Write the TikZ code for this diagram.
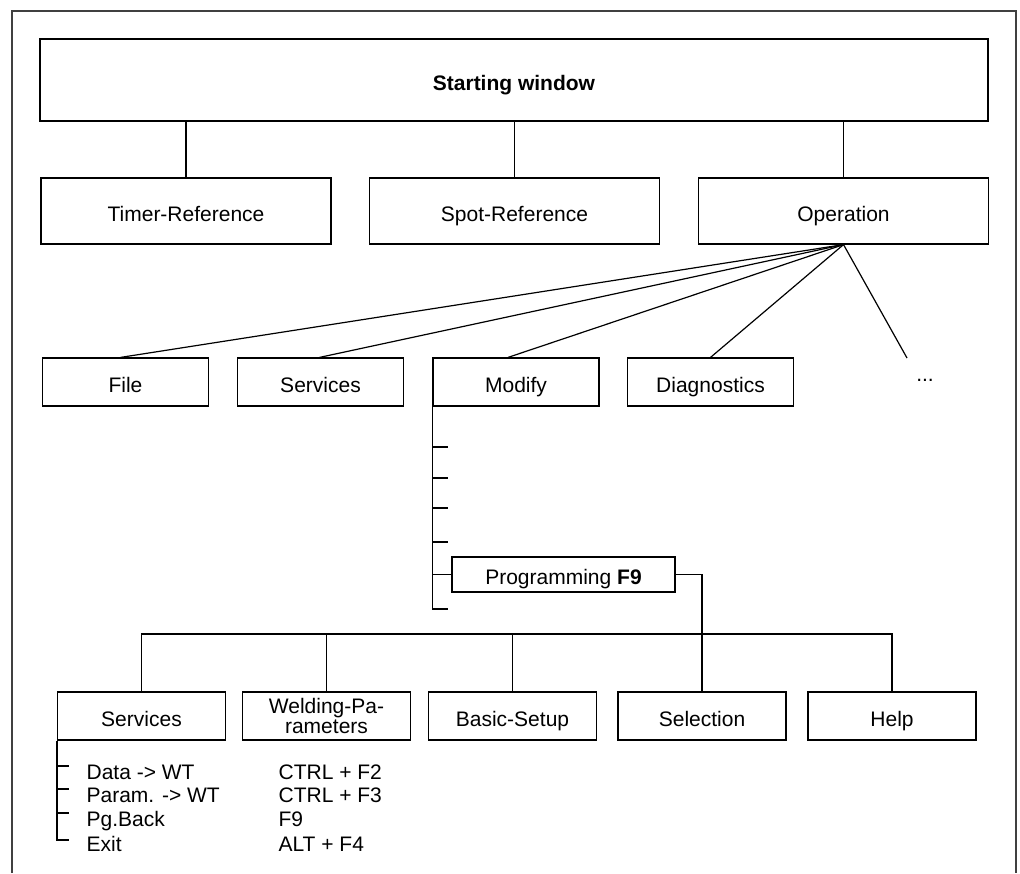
\documentclass[tikz,border=0pt]{standalone}
\usepackage{fontspec}
\setmainfont{Liberation Sans}
\usetikzlibrary{positioning, calc}

\begin{document}
\begin{tikzpicture}[x=0.5pt, y=-0.5pt, line width=0.6pt,
    font=\fontsize{10.5}{12}\selectfont,
    frame/.style={draw, rectangle, inner sep=0pt},
    oneline/.style={text height=10pt, text depth=0pt},
    topbox/.style={frame, oneline, minimum width=145pt, minimum height=33pt},
    midbox/.style={frame, oneline, minimum width=83pt, minimum height=24pt},
    lowbox/.style={frame, minimum width=84pt, minimum height=24pt},
    listtext/.style={anchor=base west, inner sep=0pt}]
    \useasboundingbox (0,0) rectangle (1020,873);
    % open frame round the page
    \draw [line width=1pt, black!75] (12,873) -- (12,11) -- (1016,11) -- (1016,873);

    \node (start) at (514,80) [frame, oneline, minimum width=474pt, minimum height=41pt] {\textbf{Starting window}};
    \node (timer) at (186,211) [topbox] {Timer-Reference};
    \node (spot) at (514.5,211) [topbox] {Spot-Reference};
    \node (oper) at (843.5,211) [topbox] {Operation};
    \foreach \n in {timer,spot,oper} { \draw (start.south -| \n.north) -- (\n.north); }

    % operation menu
    \node (file) at (125.5,382) [midbox] {File};
    \node (serv) at (320.5,382) [midbox] {Services};
    \node (modify) at (516,382) [midbox] {Modify};
    \node (diag) at (710.5,382) [midbox] {Diagnostics};
    \coordinate (more) at (907,358);
    \node (dots) at (925,380) {...};
    \foreach \n/\dx in {file/-2.5pt,serv/-0.5pt,modify/-4pt,diag/0pt} { \draw (oper.south) -- ([xshift=\dx]\n.north); }
    \draw (oper.south) -- (more);

    % modify sub menu
    \node (prog) at (563.5,574.5) [frame, oneline, minimum width=111.5pt, minimum height=17.5pt] {Programming \textbf{F9}};
    \coordinate (stk) at (0,609);
    \draw (modify.south west) |- ($(modify.south west |- stk)+(16,0)$);
    \foreach \yy in {447,478,508,542} {
        \coordinate (t) at (0,\yy);
        \draw (modify.south west |- t) -- ++(16,0);
    }
    \draw (modify.south west |- prog.west) -- (prog.west);

    % programming menu
    \node (svc) at (141.5,716) [lowbox, oneline] {Services};
    \node (weld) at (326.5,716) [lowbox, align=center, font=\fontsize{10.5}{10}\selectfont] {Welding-Pa-\\rameters};
    \node (basic) at (512.5,716) [lowbox, oneline] {Basic-Setup};
    \node (sel) at (702,716) [lowbox, oneline] {Selection};
    \node (help) at (892,716) [lowbox, oneline] {Help};
    \coordinate (bus) at (0,634);
    \draw (prog.east) -| (sel.north);
    \draw (svc.north) |- (help.north |- bus) -- (help.north);
    \foreach \n in {weld,basic} { \draw (\n.north) -- (\n.north |- bus); }

    % services list with shortcuts
    \foreach \lbl/\key/\yy [count=\i] in {Data -> WT/CTRL + F2/779, Param. -> WT/CTRL + F3/802, Pg.Back/F9/826, Exit/ALT + F4/851} {
        \node (item\i) [listtext] at (86,\yy) {\lbl};
        \node (key\i) [listtext] at (278,\yy) {\key};
    }
    \foreach \i in {1,2,3} { \draw ($(svc.south west |- item\i.base)+(0,-13)$) -- ++(12,0); }
    \draw (svc.south west) |- ($(svc.south west |- item4.base)+(12,-11)$);
\end{tikzpicture}
\end{document}
